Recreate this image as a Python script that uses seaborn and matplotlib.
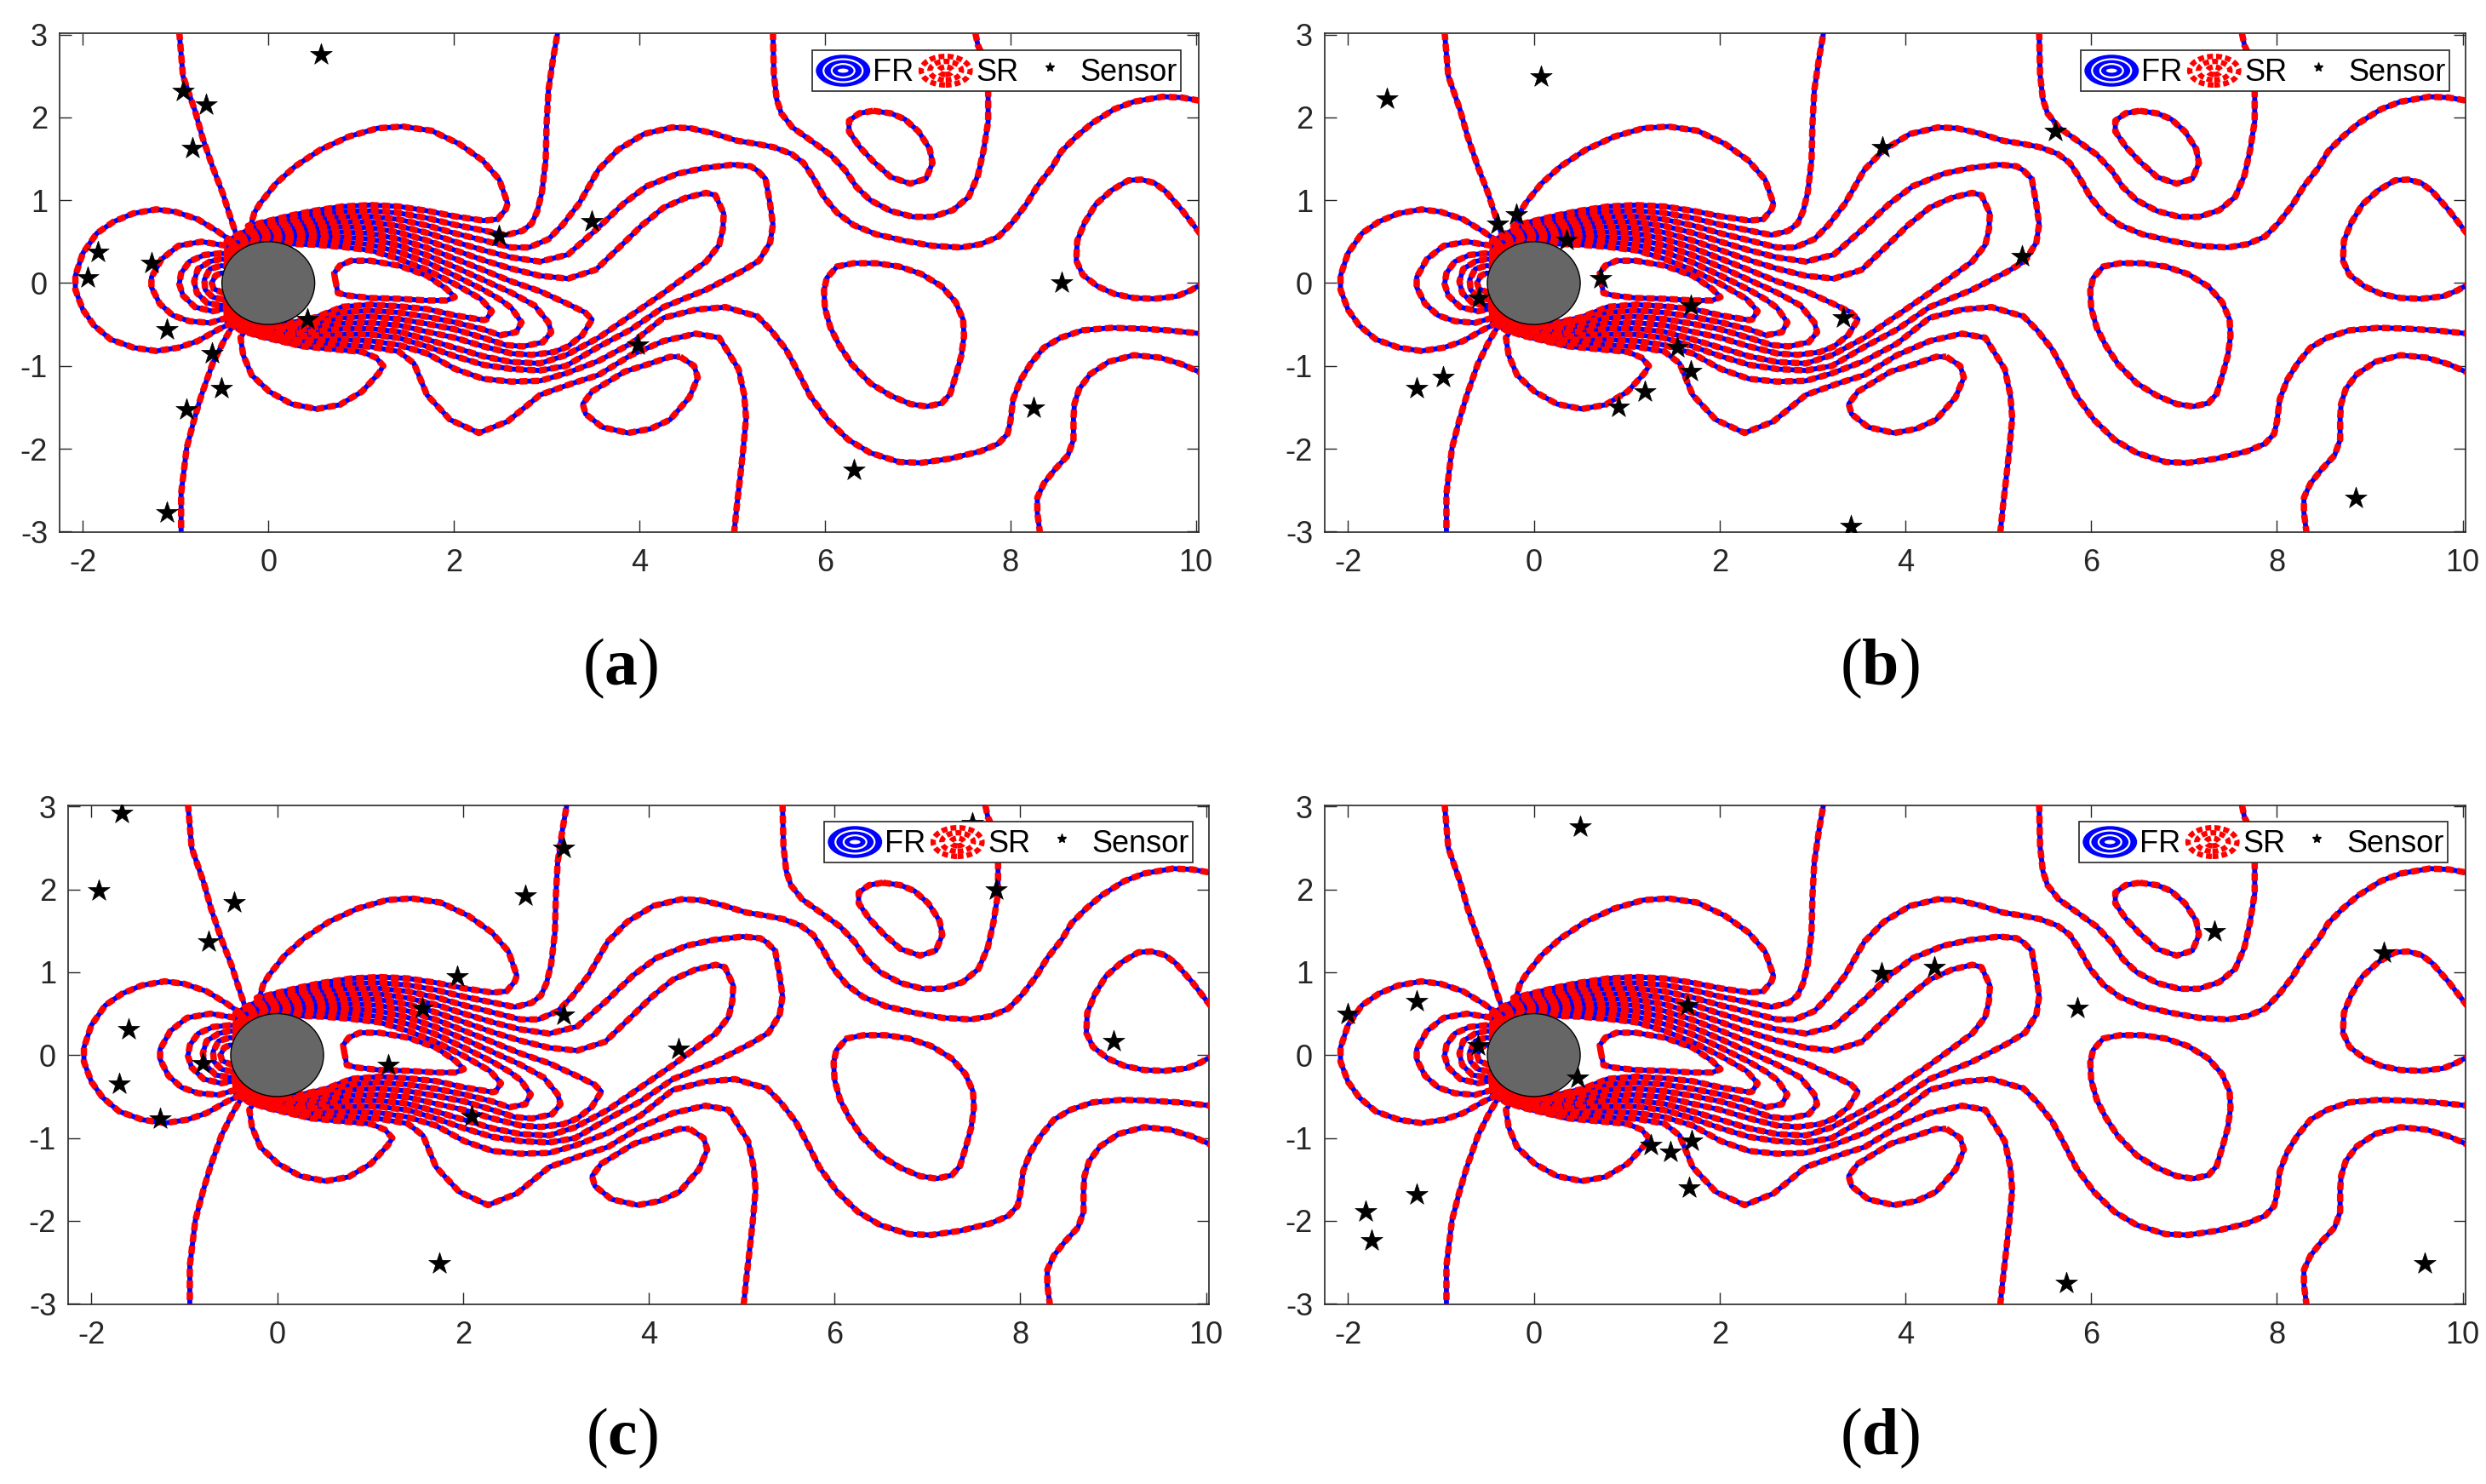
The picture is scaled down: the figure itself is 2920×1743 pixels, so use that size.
import numpy as np
import seaborn as sns
import matplotlib
matplotlib.use('Agg')
import matplotlib.pyplot as plt
from matplotlib.legend_handler import HandlerBase
from matplotlib.lines import Line2D
from matplotlib.patches import Ellipse

# contours, (x, y) in data units
lobe_top = [(-.2,.66),(-.22,.69),(-.14,.71),(0,.75),(.26,.82),(.493,.873),(.797,.925),(1.10,.942),(1.406,.925),(1.71,.873),(2.015,.805),(2.32,.754),(2.47,.77),(2.56,.89),(2.58,.96),(2.49,1.25),(2.31,1.48),(2.06,1.68),(1.76,1.84),(1.45,1.89),(1.18,1.87),(.87,1.77),(.56,1.61),(.29,1.41),(.08,1.2),(-.09,.96),(-.15,.85),(-.2,.66)]
line_b = [(-.3,.25),(-.45,.50),(-.3,.60),(-.1,.695),(.2,.75),(.493,.822),(.797,.863),(1.10,.873),(1.406,.846),(1.71,.785),(2.015,.703),(2.32,.634),(2.56,.58),(2.74,.63),(2.84,.72),(2.90,.87),(2.95,1.1),(2.99,1.48),(3.0,1.92),(3.02,2.33),(3.07,2.71),(3.12,3.03)]
line_c = [(-.3,.25),(-.45,.46),(-.3,.58),(-.1,.67),(.2,.71),(.493,.771),(.797,.802),(1.10,.805),(1.406,.768),(1.71,.696),(2.015,.600),(2.32,.515),(2.62,.43),(2.81,.43),(3.02,.53),(3.17,.70),(3.35,.96),(3.56,1.37),(3.77,1.61),(4.05,1.80),(4.35,1.88),(4.55,1.87),(4.79,1.81),(5.05,1.72),(5.27,1.68),(5.45,1.64),(5.64,1.56),(5.77,1.45),(5.87,1.28),(5.99,1.04),(6.13,.85),(6.31,.70),(6.55,.59),(6.86,.51),(7.16,.45),(7.47,.43),(7.68,.47),(7.87,.56),(8.02,.73),(8.17,.95),(8.29,1.17),(8.45,1.40),(8.55,1.59),(8.71,1.77),(8.88,1.93),(9.12,2.10),(9.33,2.19),(9.64,2.25),(9.85,2.24),(10.05,2.20)]
line_d = [(-.3,.25),(-.45,.42),(-.3,.55),(-.1,.64),(.2,.67),(.493,.720),(.797,.740),(1.10,.737),(1.406,.689),(1.71,.607),(2.015,.498),(2.32,.396),(2.62,.310),(2.93,.259),(3.23,.344),(3.54,.65),(3.83,.96),(4.08,1.17),(4.41,1.32),(4.7,1.39),(5.01,1.43),(5.2,1.41),(5.27,1.36),(5.36,1.26),(5.41,.95),(5.44,.71),(5.41,.49),(5.29,.27),(5.1,.14),(4.72,-.08),(4.26,-.29),(3.91,-.56),(3.56,-.77),(3.21,-1.0),(2.93,-1.055),(2.62,-1.038),(2.32,-.987),(2.015,-.884),(1.71,-.765),(1.406,-.663),(1.10,-.621),(.797,-.618),(.493,-.632),(.2,-.655),(-.1,-.60),(-.3,-.525),(-.45,-.40),(-.3,-.25)]
line_e = [(-.3,.25),(-.45,.38),(-.3,.525),(-.1,.61),(.2,.63),(.493,.669),(.797,.679),(1.10,.669),(1.406,.611),(1.71,.515),(2.015,.396),(2.32,.276),(2.62,.174),(2.93,.088),(3.23,.054),(3.53,.16),(3.81,.46),(4.03,.7),(4.26,.91),(4.5,1.03),(4.72,1.09),(4.82,1.06),(4.91,.84),(4.9,.65),(4.86,.46),(4.72,.26),(4.26,-.12),(3.91,-.39),(3.56,-.66),(3.21,-.87),(2.93,-.97),(2.62,-.953),(2.32,-.884),(2.015,-.782),(1.71,-.68),(1.406,-.587),(1.10,-.55),(.797,-.55),(.493,-.584),(.2,-.625),(-.1,-.58),(-.3,-.50),(-.45,-.37),(-.3,-.25)]
line_f = [(-.3,.25),(-.45,.34),(-.3,.50),(-.1,.585),(.2,.59),(.493,.617),(.797,.617),(1.10,.600),(1.406,.532),(1.71,.426),(2.015,.293),(2.32,.157),(2.62,.02),(2.93,-.099),(3.23,-.253),(3.415,-.355),(3.49,-.44),(3.385,-.628),(3.23,-.765),(3.08,-.833),(2.84,-.867),(2.62,-.85),(2.32,-.765),(2.015,-.662),(1.71,-.587),(1.406,-.509),(1.10,-.478),(.797,-.485),(.493,-.536),(.2,-.59),(-.1,-.56),(-.3,-.48),(-.45,-.34),(-.3,-.25)]
line_g = [(-.3,.25),(-.45,.30),(-.3,.47),(-.1,.56),(.2,.55),(.493,.566),(.797,.556),(1.10,.532),(1.406,.454),(1.71,.337),(2.015,.191),(2.32,.037),(2.62,-.116),(2.87,-.27),(3.02,-.475),(3.05,-.594),(2.96,-.714),(2.745,-.765),(2.56,-.748),(2.32,-.662),(2.015,-.56),(1.71,-.492),(1.406,-.434),(1.10,-.403),(.797,-.42),(.493,-.485),(.2,-.555),(-.1,-.54),(-.3,-.46),(-.45,-.30),(-.3,-.25)]
line_h = [(-.3,.2),(-.45,.26),(-.3,.44),(-.1,.53),(.2,.51),(.493,.515),(.797,.498),(1.10,.464),(1.406,.375),(1.71,.249),(2.015,.088),(2.32,-.082),(2.5,-.2),(2.62,-.3),(2.73,-.475),(2.67,-.594),(2.50,-.63),(2.32,-.56),(2.015,-.475),(1.71,-.407),(1.406,-.355),(1.10,-.331),(.797,-.352),(.493,-.437),(.2,-.52),(-.1,-.52),(-.3,-.44),(-.45,-.26),(-.3,-.2)]
line_i = [(-.3,.15),(-.45,.22),(-.3,.41),(-.1,.50),(.2,.475),(.493,.464),(.797,.437),(1.10,.396),(1.406,.293),(1.71,.157),(2.015,-.014),(2.29,-.19),(2.41,-.34),(2.35,-.44),(2.32,-.447),(2.015,-.39),(1.71,-.314),(1.406,-.28),(1.10,-.26),(.797,-.287),(.52,-.41),(.2,-.49),(-.1,-.50),(-.3,-.41),(-.45,-.22),(-.3,-.15)]
wake_core = [(.72,.05),(.75,-.12),(.86,-.15),(1.10,-.18),(1.41,-.19),(1.71,-.21),(1.92,-.21),(2.01,-.17),(1.92,-.07),(1.71,.09),(1.41,.21),(1.10,.27),(.89,.27),(.77,.21),(.71,.12),(.72,.05)]
lobe_bottom = [(-.25,-.58),(-.21,-.59),(.04,-.66),(.34,-.76),(.71,-.80),(1.01,-.83),(1.16,-.90),(1.24,-1.0),(1.19,-1.09),(1.01,-1.31),(.77,-1.47),(.52,-1.52),(.25,-1.46),(.01,-1.31),(-.18,-1.11),(-.27,-.87),(-.30,-.66),(-.25,-.58)]
line_b_low = [(-.3,-.25),(-.45,-.46),(-.3,-.57),(-.1,-.64),(.2,-.72),(.493,-.731),(.797,-.748),(1.10,-.768),(1.406,-.826),(1.57,-.97),(1.71,-1.35),(1.96,-1.65),(2.27,-1.81),(2.58,-1.67),(2.93,-1.35),(3.28,-1.21),(3.56,-1.11),(3.91,-.87),(4.26,-.70),(4.61,-.61),(4.86,-.66),(5.07,-1.04),(5.13,-1.35),(5.15,-1.63),(5.12,-2.0),(5.09,-2.31),(5.05,-2.7),(5.02,-3.03)]
line_c_low = [(-.3,-.25),(-.45,-.43),(-.3,-.55),(-.1,-.62),(.2,-.69),(.493,-.683),(.797,-.683),(1.10,-.697),(1.406,-.748),(1.71,-.85),(2.015,-1.038),(2.32,-1.157),(2.62,-1.19),(2.93,-1.18),(3.21,-1.09),(3.56,-.94),(3.91,-.73),(4.26,-.42),(4.61,-.32),(4.93,-.29),(5.14,-.36),(5.27,-.40),(5.42,-.57),(5.58,-.8),(5.7,-1.05),(5.84,-1.36),(6.03,-1.65),(6.25,-1.89),(6.49,-2.05),(6.8,-2.16),(7.04,-2.17),(7.35,-2.12),(7.68,-2.03),(7.87,-1.94),(7.97,-1.82),(8.0,-1.67),(8.03,-1.4),(8.11,-1.17),(8.22,-.97),(8.36,-.78),(8.54,-.66),(8.78,-.57),(9.09,-.54),(9.39,-.55),(9.7,-.57),(10.05,-.61)]
stream_up = [(-.96,3.03),(-.92,2.5),(-.79,2.08),(-.71,1.76),(-.6,1.4),(-.49,1.08),(-.41,.8),(-.35,.6),(-.32,.48)]
stream_down = [(-.33,-.48),(-.4,-.55),(-.48,-.70),(-.6,-.97),(-.72,-1.35),(-.8,-1.65),(-.88,-1.99),(-.94,-2.54),(-.94,-3.03)]
left_1 = [(-.39,.50),(-.54,.62),(-.76,.77),(-1.0,.86),(-1.21,.89),(-1.46,.84),(-1.67,.74),(-1.85,.60),(-2.0,.36),(-2.08,.09),(-2.08,-.08),(-2.0,-.32),(-1.88,-.51),(-1.7,-.68),(-1.45,-.78),(-1.21,-.82),(-.97,-.78),(-.76,-.70),(-.54,-.56),(-.39,-.48)]
left_2 = [(-.45,.45),(-.72,.50),(-.97,.45),(-1.15,.29),(-1.26,.07),(-1.26,-.05),(-1.17,-.25),(-1.03,-.39),(-.85,-.46),(-.63,-.48),(-.45,-.42)]
left_3 = [(-.38,.34),(-.51,.36),(-.69,.34),(-.85,.26),(-.94,.12),(-.96,-.01),(-.92,-.15),(-.79,-.29),(-.6,-.34),(-.51,-.32),(-.38,-.3)]
left_4 = [(-.38,.28),(-.51,.29),(-.63,.26),(-.76,.17),(-.8,.02),(-.77,-.12),(-.66,-.24),(-.51,-.27),(-.38,-.26)]
left_5 = [(-.4,.2),(-.51,.21),(-.63,.17),(-.69,.04),(-.68,-.08),(-.6,-.17),(-.48,-.2),(-.4,-.2)]
left_6 = [(-.4,.12),(-.51,.12),(-.57,.09),(-.61,.0),(-.59,-.07),(-.48,-.12),(-.4,-.12)]
u_curve = [(5.44,3.03),(5.45,2.52),(5.48,2.22),(5.53,2.05),(5.65,1.88),(5.85,1.72),(6.06,1.55),(6.22,1.36),(6.34,1.16),(6.49,1.0),(6.71,.87),(6.95,.80),(7.16,.80),(7.38,.88),(7.55,1.04),(7.65,1.3),(7.71,1.6),(7.76,1.95),(7.76,2.54),(7.7,2.75),(7.65,2.87),(7.62,3.03)]
island_top = [(6.52,2.08),(6.37,2.05),(6.26,1.96),(6.26,1.83),(6.37,1.65),(6.52,1.47),(6.71,1.28),(6.92,1.2),(7.09,1.26),(7.16,1.45),(7.13,1.62),(7.01,1.83),(6.86,1.98),(6.71,2.05),(6.52,2.08)]
island_mid = [(6.0,-.04),(6.02,.06),(6.13,.2),(6.31,.24),(6.55,.24),(6.8,.2),(7.04,.11),(7.26,-.04),(7.41,-.23),(7.49,-.44),(7.5,-.64),(7.47,-.88),(7.41,-1.12),(7.35,-1.34),(7.26,-1.45),(7.1,-1.49),(6.92,-1.46),(6.71,-1.36),(6.49,-1.21),(6.29,-.98),(6.16,-.76),(6.06,-.54),(6.0,-.3),(5.99,-.09),(6.0,-.04)]
island_low = [(4.44,-.89),(4.59,-1.0),(4.63,-1.14),(4.54,-1.38),(4.33,-1.65),(4.12,-1.76),(3.88,-1.81),(3.6,-1.74),(3.42,-1.58),(3.39,-1.46),(3.49,-1.31),(3.84,-1.07),(4.12,-.97),(4.33,-.89),(4.44,-.89)]
right_lobe = [(10.05,.59),(9.85,.88),(9.67,1.11),(9.55,1.21),(9.41,1.25),(9.27,1.24),(9.09,1.12),(8.92,.95),(8.8,.73),(8.72,.51),(8.71,.27),(8.78,.1),(8.94,-.04),(9.12,-.13),(9.33,-.18),(9.55,-.19),(9.79,-.16),(9.94,-.09),(10.05,-.02)]
right_low = [(8.32,-3.03),(8.29,-2.77),(8.29,-2.59),(8.36,-2.42),(8.48,-2.25),(8.62,-2.08),(8.68,-1.89),(8.68,-1.63),(8.69,-1.46),(8.74,-1.28),(8.86,-1.1),(9.06,-.95),(9.33,-.87),(9.61,-.9),(9.85,-.98),(10.05,-1.08)]

contours = [lobe_top, line_b, line_c, line_d, line_e, line_f, line_g, line_h, line_i, wake_core,
            lobe_bottom, line_b_low, line_c_low, stream_up, stream_down,
            left_1, left_2, left_3, left_4, left_5, left_6,
            u_curve, island_top, island_mid, island_low, right_lobe, right_low]

# sensor locations per panel
sensors_a = [(.57,2.76),(-.92,2.32),(-.67,2.15),(-.82,1.63),(-1.84,.38),(-1.26,.24),(-1.95,.07),(-1.09,-.56),(-.61,-.85),(.42,-.44),(-.51,-1.27),(-.88,-1.53),(-1.09,-2.77),(2.49,.57),(3.49,.75),(3.98,-.75),(6.31,-2.26),(8.25,-1.51),(8.55,0)]
sensors_b = [(-1.58,2.23),(.08,2.49),(-.19,.83),(-.39,.71),(.35,.52),(.72,.06),(-.59,-.18),(1.69,-.27),(3.33,-.42),(1.54,-.78),(1.69,-1.06),(-.98,-1.14),(-1.26,-1.27),(1.2,-1.31),(.91,-1.5),(3.75,1.64),(5.26,.32),(5.61,1.83),(3.41,-2.94),(8.85,-2.6)]
sensors_c = [(-1.67,2.92),(-1.92,1.98),(-.46,1.84),(-.74,1.37),(-1.6,.31),(-1.7,-.35),(-.8,-.1),(-1.26,-.77),(1.2,-.12),(1.56,.57),(1.94,.95),(3.08,2.5),(2.67,1.92),(3.08,.49),(4.32,.07),(2.09,-.74),(1.75,-2.51),(7.74,1.99),(9.0,.17),(7.48,2.8)]
sensors_d = [(.5,2.76),(-2.0,.5),(-1.26,.65),(-.6,.12),(.47,-.27),(1.65,.6),(3.74,.99),(4.31,1.06),(5.85,.57),(7.33,1.49),(9.15,1.23),(1.26,-1.09),(1.47,-1.17),(1.7,-1.04),(1.67,-1.6),(-1.26,-1.68),(-1.81,-1.89),(-1.75,-2.24),(5.73,-2.75),(9.59,-2.51)]

panel_labels = ['a', 'b', 'c', 'd']
x_ticks = [-2, 0, 2, 4, 6, 8, 10]
y_ticks = [-3, -2, -1, 0, 1, 2, 3]

W, H = 2920, 1743
# axes boxes and legend right/top corner, in pixels of the reference
boxes = [(70, 39, 1408, 625), (1556, 39, 2896, 625), (80, 945.5, 1420, 1532), (1556, 945.5, 2896, 1532)]
legend_corners = [(1387, 59), (2877, 59), (1401, 965), (2875, 965)]
label_pos = [(729, 785), (2208, 785), (730, 1689), (2208, 1689)]

sns.set_theme(style='white')
plt.rcParams['font.family'] = ['Liberation Sans', 'DejaVu Sans']
plt.rcParams['axes.unicode_minus'] = False
plt.rcParams['mathtext.fontset'] = 'custom'
plt.rcParams['mathtext.rm'] = 'Liberation Serif'
plt.rcParams['mathtext.bf'] = 'Liberation Serif:bold'


class RingHandler(HandlerBase):
    def __init__(self, kind):
        super().__init__()
        self.kind = kind

    def create_artists(self, legend, orig_handle, xdescent, ydescent, width, height, fontsize, trans):
        cx, cy = width / 2 - xdescent, height / 2 - ydescent
        w, h = 46, 27
        out = []
        if self.kind == 'FR':
            out.append(Ellipse((cx, cy), w, h, fc='blue', ec='none', transform=trans))
            for s, lw in [(.72, 1.6), (.42, 1.6)]:
                out.append(Ellipse((cx, cy), w * s, h * s, fc='none', ec='white', lw=lw, transform=trans))
            out.append(Ellipse((cx, cy), w * .2, h * .13, fc='white', ec='none', transform=trans))
        else:
            for s in [.9, .58, .24]:
                out.append(Ellipse((cx, cy), w * s, h * s, fc='none', ec='red', lw=4.5,
                                   ls=(0, (1.1, .6)), transform=trans))
        return out


def fig_box(box):
    l, t, r, b = box
    return [l / W, 1 - b / H, (r - l) / W, (b - t) / H]


fig = plt.figure(figsize=(W / 100, H / 100), dpi=100)
panels = [sensors_a, sensors_b, sensors_c, sensors_d]

for i, sensors in enumerate(panels):
    ax = fig.add_axes(fig_box(boxes[i]))
    for c in contours:
        pts = np.array(c)
        sns.lineplot(x=pts[:, 0], y=pts[:, 1], sort=False, estimator=None, color='blue',
                     linewidth=4.2, ax=ax, zorder=2, legend=False,
                     solid_joinstyle='round', solid_capstyle='butt')
        sns.lineplot(x=pts[:, 0], y=pts[:, 1], sort=False, estimator=None, color='red',
                     linewidth=5.4, ax=ax, zorder=3, legend=False,
                     linestyle=(0, (1.22, .6)), dash_joinstyle='round', dash_capstyle='butt')
    ax.add_patch(Ellipse((0, 0), 1.0, 1.0, fc='#666666', ec='black', lw=1.0, zorder=3.5))
    s = np.array(sensors)
    sns.scatterplot(x=s[:, 0], y=s[:, 1], marker='*', s=370, color='black', edgecolor='black',
                    linewidth=0.5, ax=ax, zorder=4, legend=False, clip_on=True)

    ax.set_xlim(-2.25, 10.03)
    ax.set_ylim(-3.007, 3.017)
    ax.set_xticks(x_ticks)
    ax.set_yticks(y_ticks)
    ax.tick_params(axis='both', direction='in', length=10, width=1.0, color='#262626',
                   labelcolor='#262626', labelsize=26, top=True, right=True, bottom=True, left=True)
    ax.tick_params(axis='x', pad=14)
    ax.tick_params(axis='y', pad=10)
    for sp in ax.spines.values():
        sp.set_linewidth(1.2)
        sp.set_color('#262626')

    fr = Line2D([], [], color='blue')
    sr = Line2D([], [], color='red')
    sensor = Line2D([], [], color='black', marker='*', ms=8, ls='none')
    lx, ly = legend_corners[i]
    l, t, r, b = boxes[i]
    leg = ax.legend([fr, sr, sensor], ['FR', 'SR', 'Sensor'], ncol=3, loc='upper right',
                    bbox_to_anchor=((lx - l) / (r - l), 1 - (ly - t) / (b - t)),
                    handler_map={fr: RingHandler('FR'), sr: RingHandler('SR')},
                    fontsize=26, frameon=True, fancybox=False, framealpha=1, edgecolor='#262626',
                    borderpad=.12, borderaxespad=0, handlelength=1.75, handleheight=1.3,
                    handletextpad=.1, columnspacing=.15, labelcolor='black')
    leg.get_frame().set_linewidth(1.2)

    px, py = label_pos[i]
    fig.text(px / W, 1 - py / H, r'($\mathbf{' + panel_labels[i] + r'}$)', ha='center', va='center',
             fontsize=56, color='black', family='Liberation Serif')

fig.savefig('out.png', dpi=100)
